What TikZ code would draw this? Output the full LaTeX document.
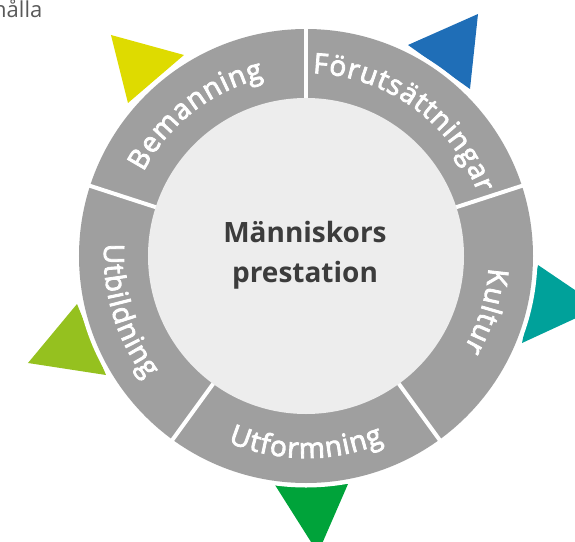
\documentclass[tikz,border=0pt]{standalone}
\usepackage{fontspec}
\setmainfont{Open Sans}
\newfontface\ringface[FakeBold=3]{Open Sans}
\definecolor{ringgray}{HTML}{9F9F9F}
\definecolor{innergray}{HTML}{EDEDED}
\definecolor{txtdark}{HTML}{3C3C3C}
\definecolor{cornertxt}{HTML}{595959}
\definecolor{cyellow}{HTML}{DEDB00}
\definecolor{cblue}{HTML}{1F6EB7}
\definecolor{cteal}{HTML}{00A19A}
\definecolor{cgreen}{HTML}{00A33A}
\definecolor{clime}{HTML}{95C11F}
\newcommand\ringfnt{\ringface\fontsize{28}{28}\selectfont}
\newdimen\rchw
\newbox\rchbox
% measure letters outside the picture: #1 prefix, #2 extra spacing, #3 letters
\newcommand\prepring[3]{%
  \gdef\rtot{0}%
  \foreach \ch [count=\ci] in {#3}{%
    \setbox\rchbox=\hbox{\ringfnt\ch}\rchw=\wd\rchbox
    \expandafter\xdef\csname rw#1\ci\endcsname{\the\rchw}%
    \pgfmathsetmacro\rtmp{\rtot+\the\rchw+#2}%
    \global\let\rtot\rtmp
  }%
  \pgfmathsetmacro\rposs{-(\rtot-#2)/2}%
  \expandafter\global\expandafter\let\csname rstart#1\endcsname\rposs
}
% draw: #1 centre angle, #2 baseline radius, #3 direction (1 clockwise, -1 counter), #4 extra spacing, #5 letters, #6 prefix
\newcommand\ringtext[6]{%
  \expandafter\global\expandafter\let\expandafter\rpos\csname rstart#6\endcsname
  \foreach \ch [count=\ci] in {#5}{%
    \edef\rw{\csname rw#6\ci\endcsname}%
    \pgfmathsetmacro\rmid{\rpos+\rw/2}%
    \pgfmathsetmacro\rang{#1-(#3)*\rmid/#2*57.29578}%
    \pgfmathsetmacro\rrot{\rang-(#3)*90}%
    \node[ringlbl,rotate=\rrot,anchor=base] (#6\ci) at (\rang:#2pt) {\ch};
    \pgfmathsetmacro\rtmp{\rpos+\rw+#4}%
    \global\let\rpos\rtmp
  }%
}
\tikzset{
  ringlbl/.style={text=white,font=\ringfnt,inner sep=0pt},
  centerlbl/.style={text=txtdark,font=\fontsize{28}{28}\selectfont\bfseries,inner sep=0pt,anchor=base},
  divider/.style={white,line width=4pt},
}
\begin{document}
\prepring{bem}{1}{B,e,m,a,n,n,i,n,g}%
\prepring{foer}{1}{F,ö,r,u,t,s,ä,t,t,n,i,n,g,a,r}%
\prepring{kul}{1}{K,u,l,t,u,r}%
\prepring{utf}{1}{U,t,f,o,r,m,n,i,n,g}%
\prepring{utb}{1}{U,t,b,i,l,d,n,i,n,g}%
\begin{tikzpicture}
\useasboundingbox (-306pt,-285pt) rectangle (269pt,256pt);
% corner text
\node[anchor=base west,text=cornertxt,font=\fontsize{22}{22}\selectfont,inner sep=0pt] (corner) at (-313pt,238pt) {hålla};
% triangles
\fill[cyellow] (-195pt,221pt) -- (-122pt,201pt) -- (-178pt,153pt) -- cycle;
\fill[cblue] (102pt,211pt) -- (172pt,242pt) -- (164pt,167pt) -- cycle;
\fill[cteal] (232pt,-9pt) -- (294pt,-51pt) -- (216pt,-87pt) -- cycle;
\fill[cgreen] (-31pt,-229pt) -- (42pt,-228pt) -- (12pt,-297pt) -- cycle;
\fill[clime] (-229pt,-48pt) -- (-278pt,-107pt) -- (-200pt,-119pt) -- cycle;
% ring
\fill[white] (0,0) circle (231.5pt);
\fill[ringgray] (0,0) circle (227pt);
\foreach \a in {90,18,-54,-126,162}
  \draw[divider] (\a:150pt) -- (\a:235pt);
\fill[innergray] (0,0) circle (158pt);
% centre text
\node[centerlbl] (c1) at (-1pt,14pt) {Människors};
\node[centerlbl] (c2) at (-1pt,-26pt) {prestation};
% ring labels
\ringtext{128}{183}{1}{1}{B,e,m,a,n,n,i,n,g}{bem}
\ringtext{54}{183}{1}{1}{F,ö,r,u,t,s,ä,t,t,n,i,n,g,a,r}{foer}
\ringtext{-17}{183}{1}{1}{K,u,l,t,u,r}{kul}
\ringtext{-90}{202}{-1}{1}{U,t,f,o,r,m,n,i,n,g}{utf}
\ringtext{197}{202}{-1}{1}{U,t,b,i,l,d,n,i,n,g}{utb}
\end{tikzpicture}
\end{document}
